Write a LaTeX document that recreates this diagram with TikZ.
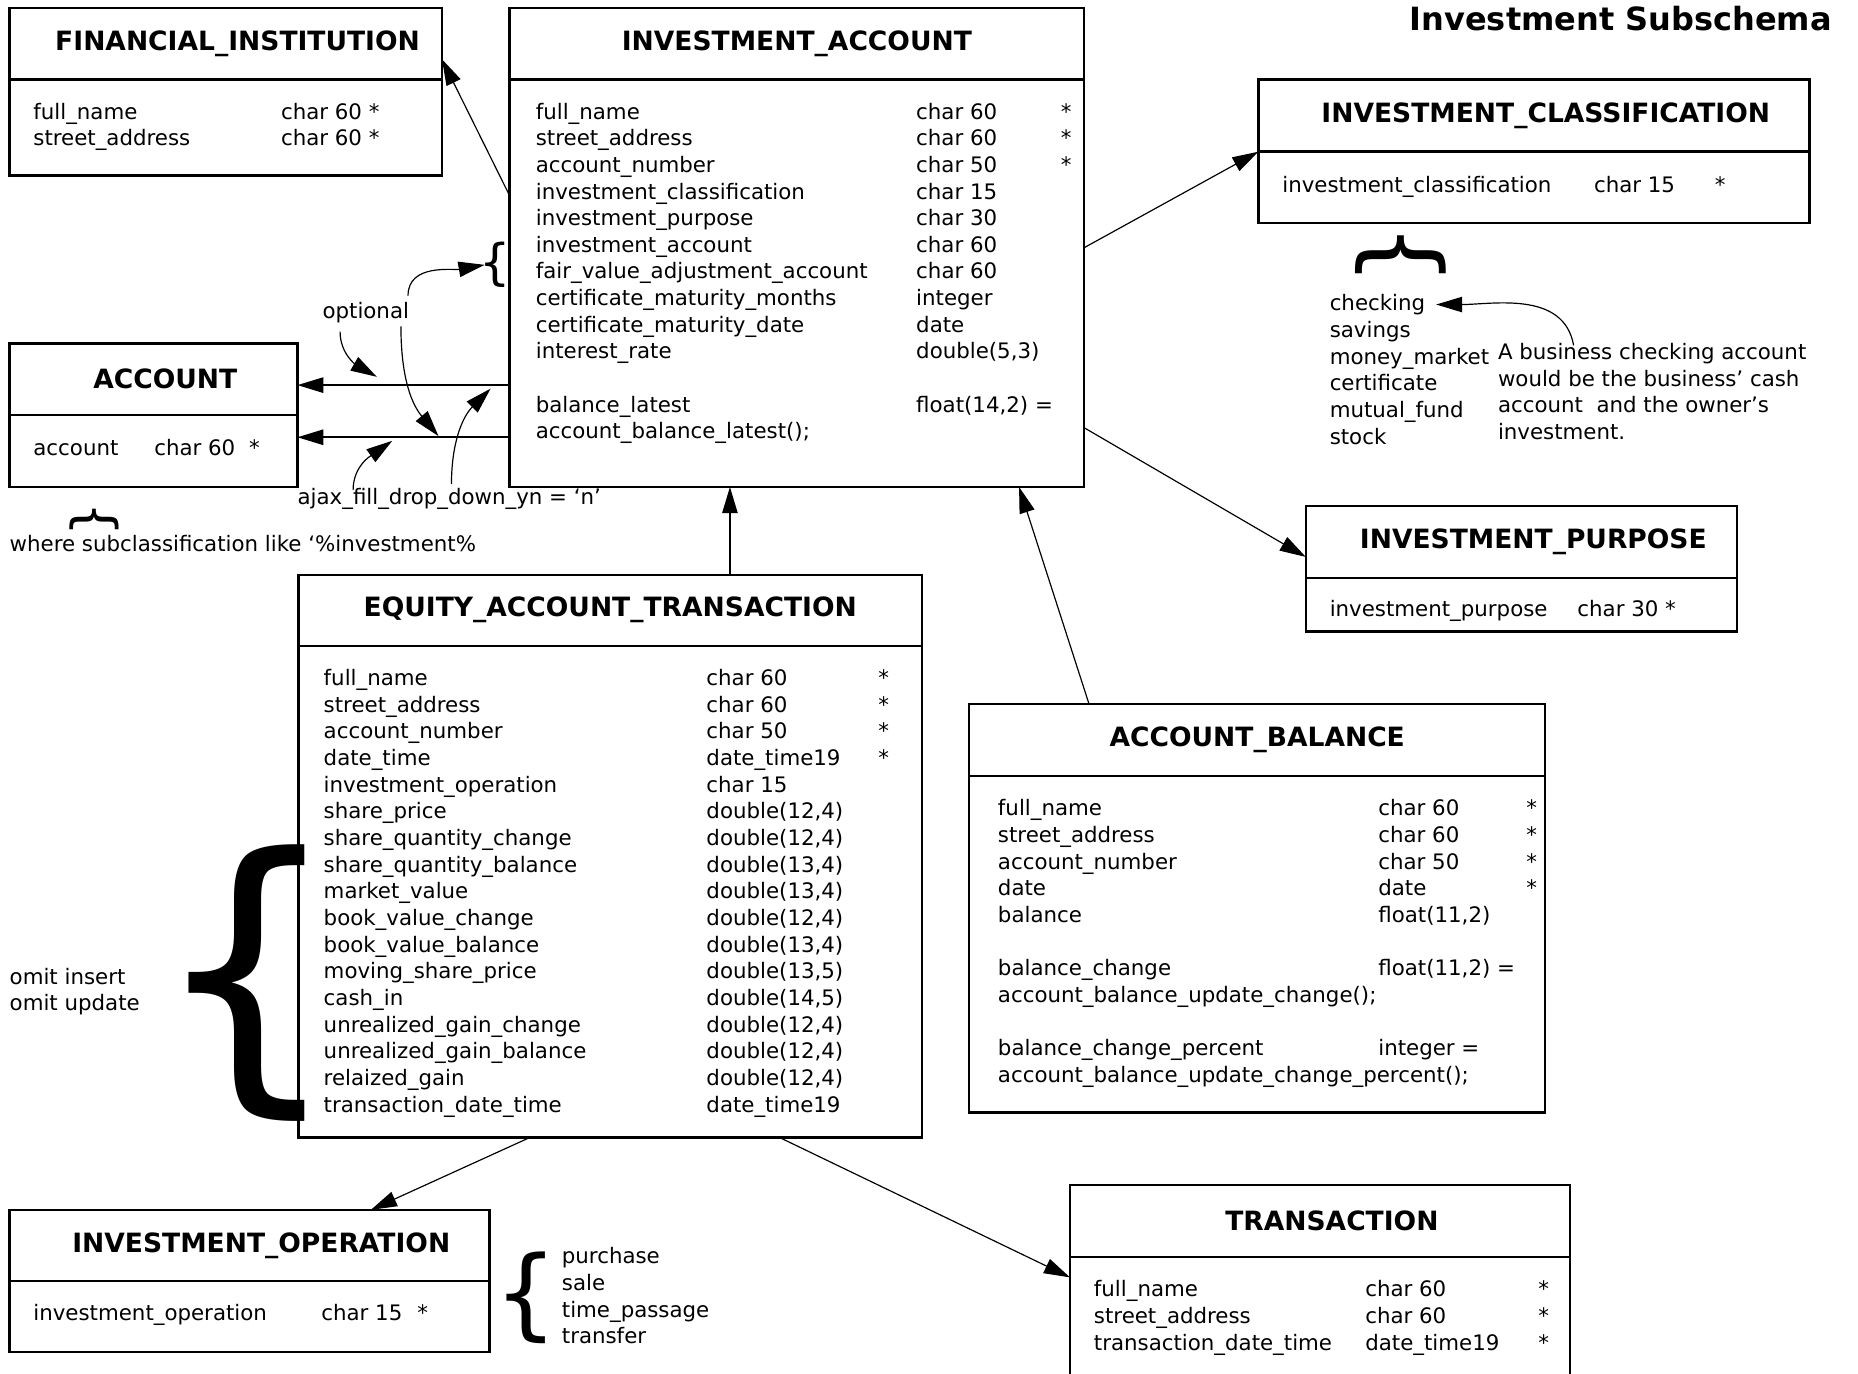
\documentclass[tikz,border=0pt]{standalone}
\usepackage{fontspec}
\setmainfont{DejaVu Sans}
\usetikzlibrary{arrows.meta}
\newcommand{\entries}[3]{\begin{tabular}{@{}p{#1pt}@{}p{#2pt}@{}l@{}}#3\end{tabular}}
\newcommand{\listrows}[1]{\begin{tabular}{@{}l@{}}#1\end{tabular}}
\newcommand{\bracesign}{\makebox[0.4em]{\{}}

\begin{document}
\begin{tikzpicture}[x=1pt, y=1pt, font=\fontsize{18}{22.5}\selectfont,
    hdr/.style={draw, line width=2pt, outer sep=0pt, anchor=north west, inner sep=0pt, font=\fontsize{22.4}{26}\selectfont\bfseries},
    bdy/.style={draw, line width=2pt, outer sep=0pt, anchor=north west, inner sep=0pt},
    rows/.style={anchor=north west, inner sep=0pt},
    brc/.style={inner sep=0pt},
    arr/.style={-{Triangle[length=22pt,width=13pt]}, line width=1pt}]
            \useasboundingbox (0,0) rectangle (1568,-1159);
            \node[anchor=east, inner sep=0pt, font=\fontsize{27}{30}\selectfont\bfseries] (ttl) at (1546,-16) {Investment Subschema};

            \node[hdr, minimum width=365pt, minimum height=60pt] (fih) at (8,-7) {\hspace*{20pt}FINANCIAL\_INSTITUTION};
            \node[bdy, minimum width=365pt, minimum height=81pt] (fib) at (fih.south west) {};
            \node[rows] (fir) at (28,-84.5) {\entries{209}{120}{full\_name & char 60 * & \\ street\_address & char 60 * &}};

            \node[hdr, minimum width=485pt, minimum height=60pt] (iah) at (430,-7) {INVESTMENT\_ACCOUNT};
            \node[bdy, minimum width=485pt, minimum height=344pt] (iab) at (iah.south west) {};
            \node[rows] (iar) at (452,-84.5) {\entries{321}{122}{
                full\_name & char 60 & * \\
                street\_address & char 60 & * \\
                account\_number & char 50 & * \\
                investment\_classification & char 15 & \\
                investment\_purpose & char 30 & \\
                investment\_account & char 60 & \\
                fair\_value\_adjustment\_account & char 60 & \\
                certificate\_maturity\_months & integer & \\
                certificate\_maturity\_date & date & \\
                interest\_rate & double(5,3) & \\
                & & \\
                balance\_latest & float(14,2) = & \\
                account\_balance\_latest(); & &}};

            \node[hdr, minimum width=465pt, minimum height=61pt] (ich) at (1062,-67) {\hspace*{20pt}INVESTMENT\_CLASSIFICATION};
            \node[bdy, minimum width=465pt, minimum height=60pt] (icb) at (ich.south west) {};
            \node[rows] (icr) at (1082,-146.5) {\entries{263}{102}{investment\_classification & char 15 & *}};

            \node[hdr, minimum width=243pt, minimum height=60pt] (acch) at (8,-290) {\hspace*{20pt}ACCOUNT};
            \node[bdy, minimum width=243pt, minimum height=61pt] (accb) at (acch.south west) {};
            \node[rows] (accr) at (28,-368.5) {\entries{102}{80}{account & char 60 & *}};

            \node[hdr, minimum width=526pt, minimum height=60pt] (eath) at (252,-485) {EQUITY\_ACCOUNT\_TRANSACTION};
            \node[bdy, minimum width=526pt, minimum height=415pt] (eatb) at (eath.south west) {};
            \node[rows] (eatr) at (273,-562.5) {\entries{323}{145}{
                full\_name & char 60 & * \\
                street\_address & char 60 & * \\
                account\_number & char 50 & * \\
                date\_time & date\_time19 & * \\
                investment\_operation & char 15 & \\
                share\_price & double(12,4) & \\
                share\_quantity\_change & double(12,4) & \\
                share\_quantity\_balance & double(13,4) & \\
                market\_value & double(13,4) & \\
                book\_value\_change & double(12,4) & \\
                book\_value\_balance & double(13,4) & \\
                moving\_share\_price & double(13,5) & \\
                cash\_in & double(14,5) & \\
                unrealized\_gain\_change & double(12,4) & \\
                unrealized\_gain\_balance & double(12,4) & \\
                relaized\_gain & double(12,4) & \\
                transaction\_date\_time & date\_time19 &}};

            \node[hdr, minimum width=486pt, minimum height=61pt] (abh) at (818,-594) {ACCOUNT\_BALANCE};
            \node[bdy, minimum width=486pt, minimum height=284pt] (abb) at (abh.south west) {};
            \node[rows] (abr) at (842,-672.5) {\entries{321}{125}{
                full\_name & char 60 & * \\
                street\_address & char 60 & * \\
                account\_number & char 50 & * \\
                date & date & * \\
                balance & float(11,2) & \\
                & & \\
                balance\_change & float(11,2) = & \\
                \multicolumn{3}{@{}l@{}}{account\_balance\_update\_change();} \\
                & & \\
                balance\_change\_percent & integer = & \\
                \multicolumn{3}{@{}l@{}}{account\_balance\_update\_change\_percent();}}};

            \node[hdr, minimum width=364pt, minimum height=61pt] (iph) at (1102,-427) {\hspace*{20pt}INVESTMENT\_PURPOSE};
            \node[bdy, minimum width=364pt, minimum height=45pt] (ipb) at (iph.south west) {};
            \node[rows] (ipr) at (1122,-504.5) {\entries{209}{100}{investment\_purpose & char 30 * &}};

            \node[hdr, minimum width=405pt, minimum height=60pt] (ioh) at (8,-1021) {\hspace*{20pt}INVESTMENT\_OPERATION};
            \node[bdy, minimum width=405pt, minimum height=60pt] (iob) at (ioh.south west) {};
            \node[rows] (ior) at (28,-1098.5) {\entries{243}{81}{investment\_operation & char 15 & *}};

            \node[hdr, minimum width=422pt, minimum height=61pt] (trh) at (903,-1000) {\hspace*{20pt}TRANSACTION};
            \node[bdy, minimum width=422pt, minimum height=120pt] (trb) at (trh.south west) {};
            \node[rows] (trr) at (923,-1078.5) {\entries{229}{146}{
                full\_name & char 60 & * \\
                street\_address & char 60 & * \\
                transaction\_date\_time & date\_time19 & *}};

            \node[rows] (cls) at (1122,-246.5) {\listrows{checking\\ savings\\ money\_market\\ certificate\\ mutual\_fund\\ stock}};
            \node[rows] (note) at (1264,-287.5) {\listrows{A business checking account\\ would be the business’ cash\\ account\ \ and the owner’s\\ investment.}};
            \node[rows] (ops) at (474,-1050.5) {\listrows{purchase\\ sale\\ time\_passage\\ transfer}};
            \node[rows] (omit) at (8,-814.5) {\listrows{omit insert\\ omit update}};
            \node[rows] (where) at (8,-449.5) {\listrows{where subclassification like ‘\%investment\%}};
            \node[rows] (opt) at (272,-252.5) {\listrows{optional}};
            \node[rows] (ajax) at (251,-409.5) {\listrows{ajax\_fill\_drop\_down\_yn = ‘n’}};

            \node[brc, font=\fontsize{41.6}{42}\selectfont] (iabrace) at (417.5,-223.5) {\bracesign};
            \node[brc, font=\fontsize{253}{253}\selectfont] (omitbrace) at (208,-829.5) {\bracesign};
            \node[brc, font=\fontsize{84}{84}\selectfont] (opsbrace) at (444,-1095.5) {\bracesign};
            \node[brc, rotate=-90, font=\fontsize{83}{83}\selectfont] (clsbrace) at (1182,-215) {\bracesign};
            \node[brc, rotate=-90, font=\fontsize{45}{45}\selectfont] (wherebrace) at (80,-438) {\bracesign};

            \draw[arr] (iab.west |- 0,-165) -- (fih.east |- 0,-50);
            \draw[arr, line width=1.6pt] (iab.west |- 0,-325) -- (acch.east |- 0,-325);
            \draw[arr, line width=1.6pt] (iab.west |- 0,-369) -- (accb.east |- 0,-369);
            \draw[arr] (iab.east |- 0,-209) -- (ich.south west);
            \draw[arr] (iab.east |- 0,-361) -- (iph.west |- 0,-470);
            \draw[arr] (eath.north -| 616,0) -- (iab.south -| 616,0);
            \draw[arr] (abh.north -| 919,0) -- (iab.south -| 860,0);
            \draw[arr] (eatb.south -| 447,0) -- (ioh.north -| 313,0);
            \draw[arr] (eatb.south -| 658,0) -- (trb.west |- 0,-1078);

            \coordinate (t1) at (318,-318);
            \coordinate (t2) at (370,-368);
            \coordinate (t3) at (331,-372);
            \coordinate (t4) at (414,-328);
            \coordinate (chk) at (1212,-257);
            \draw[arr] ([xshift=-1pt,yshift=3pt]opt.north east) to[out=90,in=190] (iabrace.west);
            \draw[arr] ([xshift=15pt,yshift=-4.5pt]opt.south west) to[out=-90,in=150] (t1);
            \draw[arr] ([xshift=-7pt]opt.south east) to[out=-90,in=130] (t2);
            \draw[arr] ([xshift=47pt,yshift=-4pt]ajax.north west) to[out=90,in=215] (t3);
            \draw[arr] ([xshift=130pt,yshift=1pt]ajax.north west) to[out=90,in=225] (t4);
            \draw[arr] ([xshift=64pt,yshift=-4pt]note.north west) to[out=100,in=0] (chk);
        \end{tikzpicture}
\end{document}
